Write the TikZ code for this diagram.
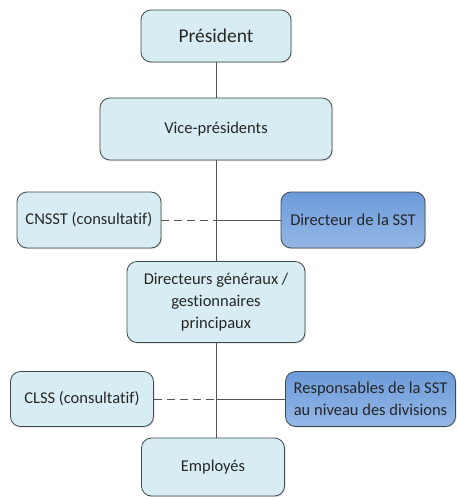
\documentclass[tikz,border=0pt]{standalone}
\usepackage{fontspec}
\setmainfont{Carlito}[Ligatures=NoCommon]
\usetikzlibrary{shadows}
\definecolor{lightbox}{HTML}{D8EDF3}
\definecolor{boxline}{HTML}{404A4D}
\definecolor{darktop}{HTML}{6C9BDA}
\definecolor{darkbot}{HTML}{95B7E6}
\definecolor{linecol}{HTML}{555555}
\tikzset{
  basebox/.style={draw=boxline, line width=0.8pt, rounded corners=10pt, align=center,
    inner sep=0pt, text=black!85, drop shadow={shadow xshift=1pt, shadow yshift=-1.2pt, opacity=0.25}},
  lightnode/.style={basebox, fill=lightbox},
  darknode/.style={basebox, top color=darktop, bottom color=darkbot},
  conn/.style={draw=linecol, line width=0.8pt},
  dconn/.style={conn, dash pattern=on 8pt off 5pt},
  bodyfont/.style={font=\fontsize{16.5}{22}\selectfont},
}
\begin{document}
\begin{tikzpicture}[x=1pt,y=-1pt]
\useasboundingbox (0,0) rectangle (456,497);
\coordinate (spine1) at (216,220);
\coordinate (spine2) at (216,399);
\node[lightnode, minimum width=150pt, minimum height=52pt, font=\fontsize{19.5}{22}\selectfont] (pres) at (216,36) {Président};
\node[lightnode, bodyfont, minimum width=232pt, minimum height=62pt] (vp) at (216,129) {Vice-présidents};
\node[lightnode, bodyfont, minimum width=144pt, minimum height=56pt] (cnsst) at (89,220) {CNSST (consultatif)};
\node[darknode, bodyfont, minimum width=144pt, minimum height=56pt] (dsst) at (353,220) {Directeur de la SST};
\node[lightnode, bodyfont, minimum width=178pt, minimum height=81pt] (dg) at (216,302) {Directeurs généraux /\\gestionnaires\\principaux};
\node[lightnode, bodyfont, minimum width=143pt, minimum height=55pt] (clss) at (82,399) {CLSS (consultatif)};
\node[darknode, bodyfont, minimum width=170pt, minimum height=55pt] (rsst) at (370.5,399) {Responsables de la SST\\au niveau des divisions};
\node[lightnode, bodyfont, minimum width=143pt, minimum height=58pt] (emp) at (213,467) {Employés};
\draw[conn] (pres.south) -- (vp.north);
\draw[conn] (vp.south) -- (dg.north);
\draw[conn] (dg.south) -- (dg.south |- emp.north);
\draw[dconn] (cnsst.east) -- (spine1);
\draw[conn] (spine1) -- (dsst.west);
\draw[dconn] (clss.east) -- (spine2);
\draw[conn] (spine2) -- (rsst.west);
\end{tikzpicture}
\end{document}
